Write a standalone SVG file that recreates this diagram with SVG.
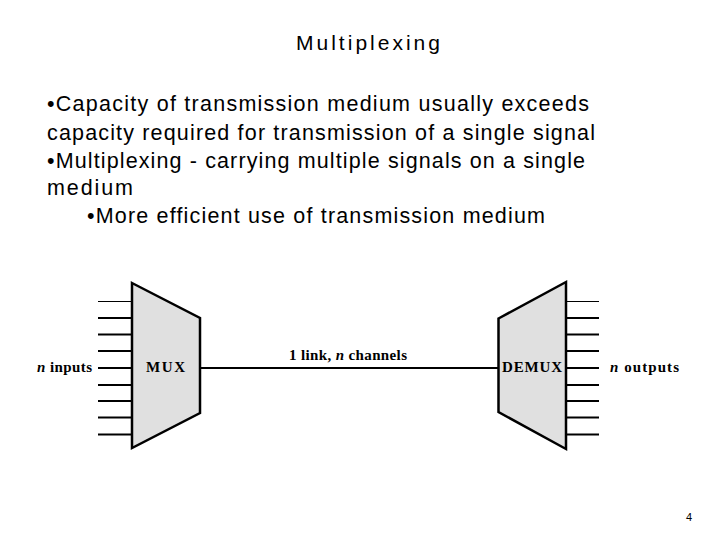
<svg xmlns="http://www.w3.org/2000/svg" width="720" height="540" viewBox="0 0 720 540">
<style>
.t{font-family:"Liberation Sans",Arial,sans-serif;fill:#000}
.b{font-family:"Liberation Serif","Times New Roman",serif;font-weight:bold;font-size:15px;fill:#000}
.box{fill:#e0e0e0;stroke:#000;stroke-width:2.5;stroke-linejoin:miter}
.w{stroke:#000;stroke-width:2;fill:none}
.w1{stroke:#000;stroke-width:1;fill:none}
</style>
<rect width="720" height="540" fill="#fff"/>
<text class="t" x="296" y="50" font-size="21" textLength="144" lengthAdjust="spacing">Multiplexing</text>
<g class="t" font-size="21.5">
<text x="47" y="111" textLength="542" lengthAdjust="spacing">•Capacity of transmission medium usually exceeds</text>
<text x="47" y="140" textLength="548" lengthAdjust="spacing">capacity required for transmission of a single signal</text>
<text x="47" y="168" textLength="538" lengthAdjust="spacing">•Multiplexing - carrying multiple signals on a single</text>
<text x="47" y="195" textLength="86" lengthAdjust="spacing">medium</text>
<text x="87" y="223" textLength="458" lengthAdjust="spacing">•More efficient use of transmission medium</text>
</g>
<g id="connectors">
<line class="w1" x1="98" y1="301.5" x2="132" y2="301.5"/>
<line class="w" x1="98" y1="318" x2="132" y2="318"/>
<line class="w" x1="98" y1="334.5" x2="132" y2="334.5"/>
<line class="w" x1="98" y1="351" x2="132" y2="351"/>
<line class="w" x1="98" y1="368" x2="132" y2="368"/>
<line class="w" x1="98" y1="385" x2="132" y2="385"/>
<line class="w" x1="98" y1="401" x2="132" y2="401"/>
<line class="w" x1="98" y1="417.5" x2="132" y2="417.5"/>
<line class="w" x1="98" y1="434.5" x2="132" y2="434.5"/>
<line class="w" x1="200" y1="368" x2="498" y2="368"/>
<line class="w1" x1="566" y1="301.5" x2="599" y2="301.5"/>
<line class="w" x1="566" y1="318" x2="599" y2="318"/>
<line class="w" x1="566" y1="334.5" x2="599" y2="334.5"/>
<line class="w" x1="566" y1="351" x2="599" y2="351"/>
<line class="w" x1="566" y1="368" x2="599" y2="368"/>
<line class="w" x1="566" y1="385" x2="599" y2="385"/>
<line class="w" x1="566" y1="401" x2="599" y2="401"/>
<line class="w" x1="566" y1="417.5" x2="599" y2="417.5"/>
<line class="w" x1="566" y1="434.5" x2="599" y2="434.5"/>
<text class="b" x="289" y="360" textLength="118" lengthAdjust="spacing">1 link, <tspan font-style="italic">n</tspan> channels</text>
</g>
<g id="inputs-label"><text class="b" x="37" y="372" textLength="55" lengthAdjust="spacing"><tspan font-style="italic">n</tspan> inputs</text></g>
<g id="mux">
<polygon class="box" points="132,283 200,318 200,413 132,448"/>
<text class="b" x="146" y="372" textLength="39" lengthAdjust="spacing">MUX</text>
</g>
<g id="demux">
<polygon class="box" points="498.5,318.5 566,282 566,449 498.5,412"/>
<text class="b" x="502" y="372" textLength="60" lengthAdjust="spacing">DEMUX</text>
</g>
<g id="outputs-label"><text class="b" x="610" y="372" textLength="69" lengthAdjust="spacing"><tspan font-style="italic">n</tspan> outputs</text></g>
<text class="t" x="689" y="521" font-size="11" text-anchor="middle">4</text>
</svg>
